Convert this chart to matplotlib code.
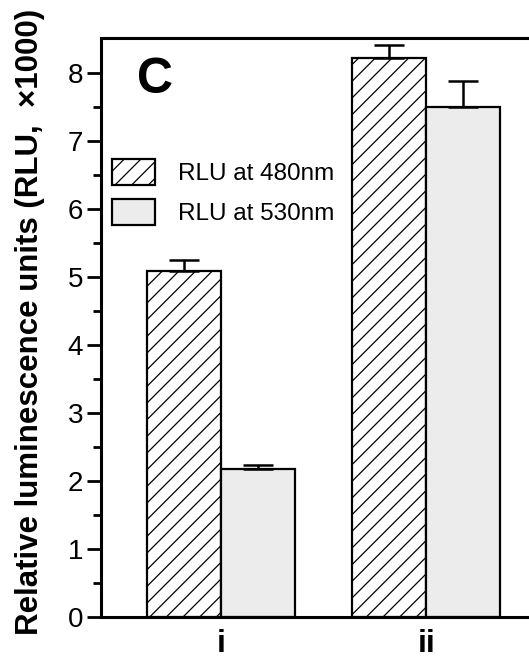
import numpy as np
import matplotlib.pyplot as plt
from matplotlib.patches import Patch

plt.rcParams['font.family'] = ['Liberation Sans', 'DejaVu Sans']
plt.rcParams['hatch.linewidth'] = 0.9
plt.rcParams['hatch.color'] = '#555555'

groups = ['i', 'ii']
rlu_480 = [5.08, 8.22]
rlu_480_err = [0.17, 0.18]
rlu_530 = [2.18, 7.50]
rlu_530_err = [0.05, 0.38]
series_labels = ['RLU at 480nm', 'RLU at 530nm']

fig = plt.figure(figsize=(5.29, 6.6), dpi=100)
ax = fig.add_axes([101 / 529, 43 / 660, 1.0 - 101 / 529, 579 / 660])

x = np.arange(1, len(groups) + 1)
w = 0.36
err_kw = dict(ecolor='black', elinewidth=1.8, capsize=11, capthick=1.8)
b1 = ax.bar(x - w / 2, rlu_480, w, color='white', edgecolor='black', hatch='//',
            linewidth=1.6, yerr=[np.zeros(2), rlu_480_err], error_kw=err_kw)
b2 = ax.bar(x + w / 2, rlu_530, w, color='#ececec', edgecolor='black',
            linewidth=1.6, yerr=[np.zeros(2), rlu_530_err], error_kw=err_kw)

ax.set_xlim(0.415, 2.5)
ax.set_ylim(0, 8.51)
ax.set_xticks(x)
ax.set_xticklabels(groups, fontsize=23, fontweight='bold')
ax.tick_params(axis='x', length=0, pad=9)
ax.set_yticks(np.arange(0, 9))
ax.set_yticks(np.arange(0.5, 8.5, 1), minor=True)
ax.tick_params(axis='y', which='major', length=10, width=2, labelsize=20, pad=3)
ax.tick_params(axis='y', which='minor', length=6, width=2)
for side in ['left', 'bottom', 'top']:
    ax.spines[side].set_linewidth(2.2)
ax.spines['right'].set_visible(False)

ax.set_ylabel('Relative luminescence units (RLU,  \u00d71000)', fontsize=22.5,
              fontweight='bold')
ax.yaxis.set_label_coords(-0.13, 0.51)

ax.text(0.126, 0.927, 'C', transform=ax.transAxes, fontsize=36, fontweight='bold',
        ha='center', va='center')

handles = [Patch(facecolor='white', edgecolor='black', hatch='//', linewidth=1.6),
           Patch(facecolor='#ececec', edgecolor='black', linewidth=1.6)]
ax.legend(handles, series_labels, loc='upper left', bbox_to_anchor=(0.004, 0.807),
          frameon=False, fontsize=17.5, handlelength=1.75, handleheight=1.25,
          handletextpad=0.95, labelspacing=0.55, borderaxespad=0)

fig.savefig('out.png', dpi=100)
